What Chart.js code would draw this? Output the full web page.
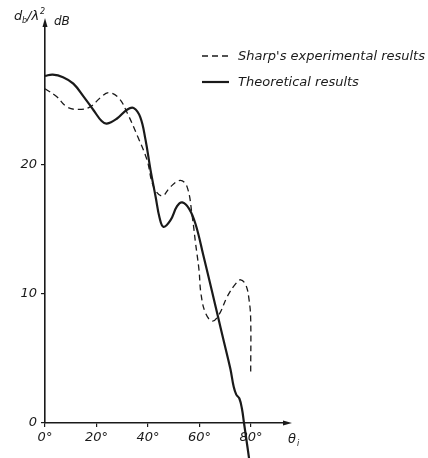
<!DOCTYPE html>
<html>
<head>
<meta charset="utf-8">
<title>Backscatter vs incidence angle</title>
<script src="https://cdn.jsdelivr.net/npm/chart.js@4.4.1/dist/chart.umd.min.js"></script>
<style>
  html, body { margin: 0; padding: 0; background: #fff; }
  #wrap { width: 428px; height: 458px; }
</style>
</head>
<body>
<div id="wrap"><canvas id="rcsChart" width="428" height="458"></canvas></div>
<script>
// ---------------------------
// Data
// ---------------------------
const xTicks = [0, 20, 40, 60, 80];
const yTicks = [0, 10, 20];

// Sharp's experimental results (dashed)
const sharpDeg = [0, 4.5, 8.5, 13, 17.5, 21.5, 24.7, 28.6, 32, 36, 39.6, 42.2, 45.5, 48.7, 52.6, 55.2, 57.2, 58.5, 59.8, 60.6, 62.4, 65, 67.6, 70.8, 74.1, 76, 78, 79.3, 79.9, 79.9];
const sharpDb  = [25.9, 25.3, 24.5, 24.3, 24.5, 25.2, 25.6, 25.2, 24.0, 22.2, 20.4, 18.3, 17.6, 18.3, 18.8, 18.3, 16.0, 13.9, 11.9, 10.0, 8.5, 7.9, 8.4, 9.8, 10.8, 11.1, 10.7, 9.5, 8.0, 4.0];

// Theoretical results (solid)
const theoDeg = [0, 3, 7, 11, 15, 19, 22, 24, 28, 32, 34.5, 37, 39, 41, 43, 44.5, 46, 48.7, 51.3, 53.3, 56, 58.5, 61.5, 65, 67, 69.5, 72, 73.3, 74.3, 75.5, 76.5, 77.3, 78.6, 79.3];
const theoDb  = [26.9, 27.0, 26.8, 26.3, 25.3, 24.2, 23.4, 23.2, 23.6, 24.3, 24.4, 23.7, 22.0, 19.6, 17.5, 15.9, 15.2, 15.7, 16.8, 17.1, 16.6, 15.4, 13.0, 10.1, 8.4, 6.3, 4.2, 2.8, 2.2, 1.9, 1.1, 0, -1.8, -2.8];

const toPoints = (xs, ys) => xs.map((x, i) => ({ x, y: ys[i] }));

const INK = '#1a1a1a';
const FONT = 'DejaVu Sans';

(function () {
  const canvas = document.getElementById('rcsChart');
  if (!canvas || typeof Chart === 'undefined') return;

  // axis arrows, axis titles, legend in the top right corner
  const decorations = {
    id: 'decorations',
    afterDraw(chart) {
      const { ctx, chartArea: a } = chart;
      ctx.save();
      ctx.fillStyle = INK;
      ctx.strokeStyle = INK;

      // arrow heads
      ctx.beginPath();
      ctx.moveTo(a.left, a.top - 5);
      ctx.lineTo(a.left - 2.5, a.top + 4);
      ctx.lineTo(a.left + 2.5, a.top + 4);
      ctx.closePath();
      ctx.fill();
      ctx.beginPath();
      ctx.moveTo(a.right + 5, a.bottom);
      ctx.lineTo(a.right - 4, a.bottom - 2.5);
      ctx.lineTo(a.right - 4, a.bottom + 2.5);
      ctx.closePath();
      ctx.fill();

      // y title: d_b/λ²  dB
      ctx.textBaseline = 'alphabetic';
      ctx.textAlign = 'left';
      ctx.font = `italic 13px ${FONT}`;
      ctx.fillText('d', 14, 20);
      ctx.font = `italic 8px ${FONT}`;
      ctx.fillText('b', 22, 23);
      ctx.font = `italic 13px ${FONT}`;
      ctx.fillText('/λ', 27, 20);
      ctx.font = `italic 8px ${FONT}`;
      ctx.fillText('2', 40, 14);
      ctx.font = `italic 12px ${FONT}`;
      ctx.fillText('dB', 54, 25);

      // x title: θi
      ctx.font = `italic 13px ${FONT}`;
      ctx.fillText('θ', a.right + 1, a.bottom + 20);
      ctx.font = `italic 8px ${FONT}`;
      ctx.fillText('i', a.right + 10, a.bottom + 23);

      // legend
      const rows = [56, 82];
      chart.data.datasets.forEach((ds, i) => {
        const y = rows[i];
        ctx.lineWidth = ds.borderWidth;
        ctx.setLineDash(ds.borderDash || []);
        ctx.beginPath();
        ctx.moveTo(202, y);
        ctx.lineTo(229, y);
        ctx.stroke();
        ctx.setLineDash([]);
        ctx.font = `italic 13px ${FONT}`;
        ctx.textBaseline = 'middle';
        ctx.fillText(ds.label, 238, y + 1);
      });
      ctx.restore();
    }
  };

  new Chart(canvas.getContext('2d'), {
    type: 'line',
    data: {
      datasets: [
        {
          label: "Sharp's experimental results",
          data: toPoints(sharpDeg, sharpDb),
          borderColor: INK,
          borderWidth: 1.3,
          borderDash: [6, 4],
          pointRadius: 0,
          tension: 0.4,
          clip: false
        },
        {
          label: 'Theoretical results',
          data: toPoints(theoDeg, theoDb),
          borderColor: INK,
          borderWidth: 2.2,
          pointRadius: 0,
          tension: 0.4,
          clip: false
        }
      ]
    },
    options: {
      responsive: false,
      animation: false,
      devicePixelRatio: 1,
      layout: { padding: { left: 0, right: 141, top: 23, bottom: 0 } },
      plugins: {
        legend: { display: false },
        tooltip: { enabled: false }
      },
      scales: {
        x: {
          type: 'linear',
          min: 0,
          max: 94,
          afterBuildTicks: (s) => { s.ticks = xTicks.map(v => ({ value: v })); },
          afterFit: (s) => { s.height = 35; },
          border: { display: true, color: INK, width: 1.6 },
          grid: { drawOnChartArea: false, drawTicks: true, tickLength: 4, color: INK, lineWidth: 1.2 },
          ticks: {
            color: INK,
            padding: 3,
            maxRotation: 0,
            font: { family: FONT, size: 13, style: 'italic' },
            callback: (v) => v + '°'
          }
        },
        y: {
          min: 0,
          max: 31,
          afterBuildTicks: (s) => { s.ticks = yTicks.map(v => ({ value: v })); },
          afterFit: (s) => { s.width = 45; },
          border: { display: true, color: INK, width: 1.6 },
          grid: { drawOnChartArea: false, drawTicks: true, tickLength: 4, color: INK, lineWidth: 1.2 },
          ticks: {
            color: INK,
            padding: 4,
            font: { family: FONT, size: 13, style: 'italic' }
          }
        }
      }
    },
    plugins: [decorations]
  });
})();
</script>
</body>
</html>
